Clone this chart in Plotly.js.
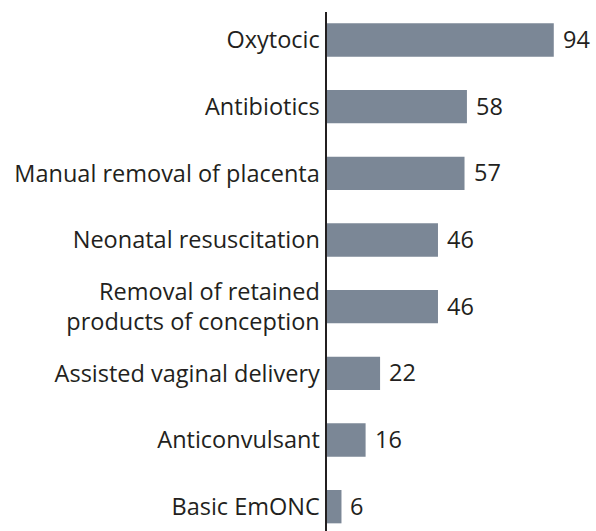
<!DOCTYPE html>
<html>
<head>
<meta charset="utf-8">
<script src="https://cdn.plot.ly/plotly-3.0.1.min.js"></script>
<style>html,body{margin:0;padding:0;background:#fff;}#chart{width:596px;height:531px;}</style>
</head>
<body>
<div id="chart"></div>
<script>
const categories = ["Oxytocic", "Antibiotics", "Manual removal of placenta", "Neonatal resuscitation",
  "Removal of retained<br>products of conception", "Assisted vaginal delivery", "Anticonvulsant", "Basic EmONC"];
const values = [94, 58, 57, 46, 46, 22, 16, 6];
const valueLabels = ["94", "58", "57", "46", "46", "22", "16", "6"];

const textColor = "#231f20";
const fontFamily = "Open Sans, sans-serif";

const trace = {
  type: "bar",
  orientation: "h",
  x: values,
  y: categories,
  marker: {color: "#7b8796"},
  width: 0.5,
  hoverinfo: "none"
};

const annotations = values.map((v, i) => ({
  x: v, y: categories[i], xref: "x", yref: "y",
  text: valueLabels[i], showarrow: false, xanchor: "left", yanchor: "middle",
  xshift: 7, yshift: 1, font: {family: fontFamily, size: 23.5, color: textColor}
}));

const layout = {
  width: 596, height: 531,
  margin: {l: 327, r: 0, t: 12, b: 0, pad: 0},
  paper_bgcolor: "#ffffff", plot_bgcolor: "#ffffff",
  showlegend: false,
  xaxis: {range: [0, 111.5], showgrid: false, zeroline: false, showticklabels: false, showline: false, fixedrange: true},
  yaxis: {
    type: "category", range: [7.365, -0.42], showgrid: false, zeroline: false,
    showline: true, linecolor: textColor, linewidth: 2.5, ticks: "", ticklabelstandoff: 0,
    tickfont: {family: fontFamily, size: 23.5, color: textColor}
  },
  annotations: annotations,
  font: {family: fontFamily, color: textColor}
};

Plotly.newPlot("chart", [trace], layout, {displayModeBar: false, staticPlot: true});
</script>
</body>
</html>
